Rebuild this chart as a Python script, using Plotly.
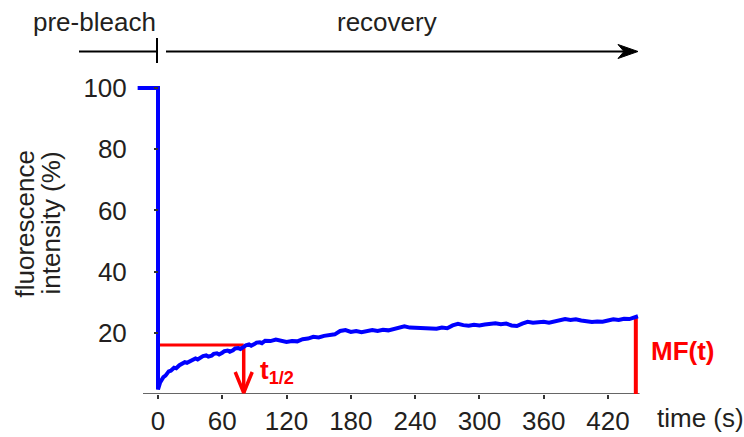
import plotly.graph_objects as go

# ---------------- data ----------------
pre_time = [-19, -15, -10, -5, 0]
pre_intensity = [100, 100, 100, 100, 100]

rec_time = [0, 2, 5, 7, 10, 12, 15, 17, 20, 22, 25, 27, 30, 32, 35, 37, 40, 42, 45, 47, 50,
            52, 55, 57, 60, 62, 65, 67, 70, 72, 75, 77, 80, 82, 85, 87, 90, 92, 95, 97, 100,
            105, 110, 115, 120, 125, 130, 135, 140, 145, 150, 155, 160, 165, 170,
            175, 180, 185, 190, 195, 200, 205, 210, 215, 220, 225, 230, 235, 240, 245, 250,
            255, 260, 265, 270, 275, 280, 285, 290, 295, 300, 305, 310, 315, 320, 325, 330,
            335, 340, 345, 350, 355, 360, 365, 370, 375, 380, 385, 390, 395, 400, 405, 410,
            415, 420, 425, 430, 435, 440, 445, 448]
rec_intensity = [1.5, 3.8, 5.5, 6.0, 7.4, 7.6, 8.6, 8.4, 9.4, 9.9, 10.4, 10.2, 10.7, 11.3,
                 11.6, 11.3, 11.9, 12.4, 12.6, 12.2, 12.5, 13.1, 13.3, 12.9, 13.5, 14.0,
                 14.2, 13.8, 14.3, 14.9, 15.0, 14.7, 15.4, 15.9, 16.2, 15.8, 16.3, 16.8,
                 16.9, 16.6, 17.4, 17.3, 17.8, 17.4, 17.0, 17.3,
                 17.2, 17.9, 18.1, 18.7, 18.5, 19.0, 19.2, 19.5, 20.6, 20.9, 20.3, 20.6, 20.2,
                 20.7, 20.9, 20.6, 21.0, 20.8, 21.3, 21.6, 22.1, 21.7, 21.6, 21.8, 21.4, 21.6,
                 21.3, 21.7, 21.5, 22.4, 22.9, 22.5, 22.3, 22.6, 22.4, 22.7, 22.9, 23.1, 22.8,
                 23.0, 22.4, 22.2, 23.0, 23.6, 23.3, 23.5, 23.6, 23.3, 23.6, 24.1, 24.5, 24.2,
                 24.4, 24.0, 23.8, 23.5, 23.7, 23.6, 24.0, 24.4, 24.2, 24.6, 24.5, 24.9, 25.4]

t_half = 80          # s
half_level = 16      # %
mf_time = 446        # s
mf_level = 25.2      # %

x_ticks = [0, 60, 120, 180, 240, 300, 360, 420]
y_ticks = [20, 40, 60, 80, 100]

# ---------------- layout geometry ----------------
W, H = 744, 437
L, R, T, B = 137, 101, 73, 43
PW, PH = W - L - R, H - T - B
X_RANGE = [-19.6, 452.7]
Y_RANGE = [0, 104.9]
XS = PW / (X_RANGE[1] - X_RANGE[0])   # px per s
YS = PH / (Y_RANGE[1] - Y_RANGE[0])   # px per %


def px(X):
    return (X - L) / PW


def py(Y):
    return (T + PH - Y) / PH


FONT = "Arial, Liberation Sans, Helvetica, sans-serif"
TXT = "#231f20"
RED = "#ff0000"
BLUE = "#0000ff"

fig = go.Figure()

# red t1/2 guide lines (under the curve)
fig.add_trace(go.Scatter(x=[0, t_half], y=[half_level, half_level], mode="lines",
                         line=dict(color=RED, width=3), hoverinfo="skip", showlegend=False))
fig.add_trace(go.Scatter(x=[t_half, t_half], y=[half_level, 0.3], mode="lines",
                         line=dict(color=RED, width=3.5), hoverinfo="skip", showlegend=False))
# arrowhead (V) for t1/2
hw = 8.5 / XS
hh = 22 / YS
fig.add_trace(go.Scatter(x=[t_half - hw, t_half, t_half + hw], y=[hh, 0.4, hh], mode="lines",
                         line=dict(color=RED, width=3.5), hoverinfo="skip", showlegend=False))
# MF line
fig.add_trace(go.Scatter(x=[mf_time, mf_time], y=[mf_level, 0], mode="lines",
                         line=dict(color=RED, width=4), hoverinfo="skip", showlegend=False))

# FRAP curve
fig.add_trace(go.Scatter(x=pre_time + rec_time, y=pre_intensity + rec_intensity, mode="lines",
                         line=dict(color=BLUE, width=4), hoverinfo="skip", showlegend=False))

shapes = []
# x axis line
shapes.append(dict(type="line", xref="x", yref="y", x0=-14, x1=449.5, y0=0, y1=0,
                   line=dict(color="#333333", width=1.5), layer="below"))
# top phase bar
Yb = 51.5
shapes.append(dict(type="line", xref="paper", yref="paper", x0=px(79), x1=px(157),
                   y0=py(Yb), y1=py(Yb), line=dict(color="black", width=2)))
shapes.append(dict(type="line", xref="paper", yref="paper", x0=px(157), x1=px(157),
                   y0=py(38), y1=py(63), line=dict(color="black", width=2)))
shapes.append(dict(type="line", xref="paper", yref="paper", x0=px(166), x1=px(628),
                   y0=py(Yb), y1=py(Yb), line=dict(color="black", width=2)))
path = "M {:.5f},{:.5f} L {:.5f},{:.5f} L {:.5f},{:.5f} L {:.5f},{:.5f} Z".format(
    px(638), py(Yb), px(618), py(Yb - 7), px(624), py(Yb), px(618), py(Yb + 7))
shapes.append(dict(type="path", xref="paper", yref="paper", path=path,
                   fillcolor="black", line=dict(color="black", width=1)))

annotations = [
    dict(text="pre-bleach", x=px(94), y=py(22)),
    dict(text="recovery", x=px(387), y=py(22)),
    dict(text="time (s)", x=px(655), y=py(418), xanchor="left"),
    dict(text="fluorescence", x=px(24), y=py(224.5), textangle=-90),
    dict(text="intensity (%)", x=px(50), y=py(223.5), textangle=-90),
]
for a in annotations:
    a.setdefault("xanchor", "center")
    a.update(xref="paper", yref="paper", yanchor="middle", showarrow=False,
             font=dict(family=FONT, size=26, color=TXT))

annotations.append(dict(text="<b>MF(t)</b>", xref="x", x=mf_time, xshift=13, xanchor="left",
                        yref="paper", y=py(351), yanchor="middle", showarrow=False,
                        font=dict(family=FONT, size=26, color=RED)))
annotations.append(dict(text="<b>t<sub>1/2</sub></b>", xref="x", x=t_half, xshift=14,
                        xanchor="left", yref="paper", y=py(371), yanchor="middle",
                        showarrow=False, font=dict(family=FONT, size=26, color=RED)))

fig.update_layout(
    width=W, height=H,
    margin=dict(l=L, r=R, t=T, b=B, pad=0, autoexpand=False),
    paper_bgcolor="white", plot_bgcolor="white",
    font=dict(family=FONT, size=26, color=TXT),
    shapes=shapes, annotations=annotations,
    xaxis=dict(range=X_RANGE, showgrid=False, zeroline=False, showline=False,
               automargin=False,
               ticks="outside", ticklen=4, tickwidth=1.5, tickcolor="#333333",
               tickvals=x_ticks, ticktext=[str(v) for v in x_ticks],
               tickfont=dict(family=FONT, size=26, color=TXT)),
    yaxis=dict(range=Y_RANGE, showgrid=False, zeroline=False, showline=False,
               automargin=False,
               anchor="free", position=px(158),
               ticks="outside", ticklen=4, tickwidth=1.5, tickcolor="#333333",
               tickvals=y_ticks, ticktext=[str(v) for v in y_ticks],
               ticklabelstandoff=22,
               tickfont=dict(family=FONT, size=26, color=TXT)),
)

fig.write_html("out.html")
